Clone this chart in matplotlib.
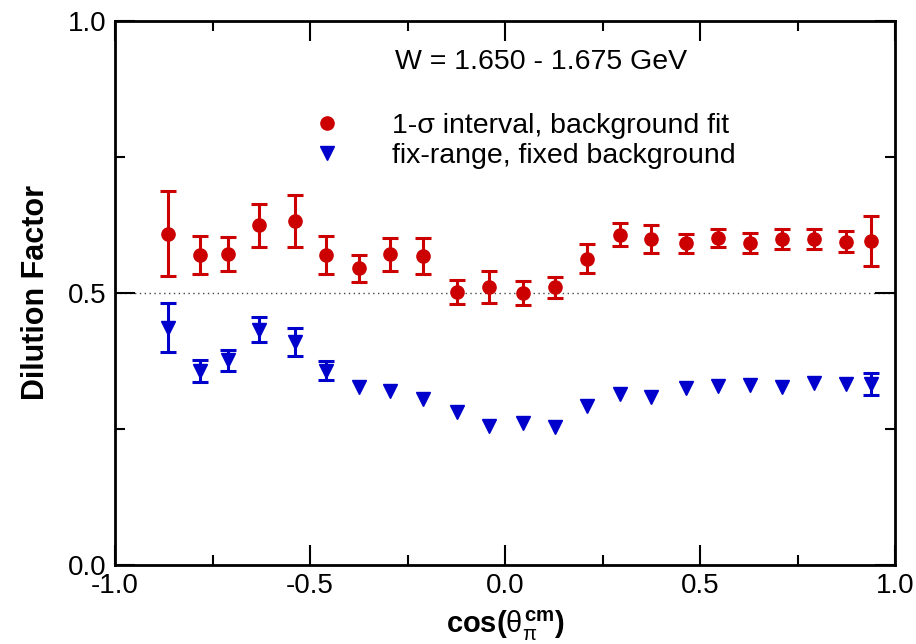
import matplotlib
matplotlib.use("Agg")
import numpy as np
import matplotlib.pyplot as plt
from matplotlib.lines import Line2D
from matplotlib.ticker import MultipleLocator, FormatStrFormatter

plt.rcParams['font.family'] = ['Liberation Sans', 'DejaVu Sans']
plt.rcParams['mathtext.fontset'] = 'custom'
plt.rcParams['mathtext.rm'] = 'Liberation Sans'
plt.rcParams['mathtext.it'] = 'Liberation Sans'
plt.rcParams['mathtext.bf'] = 'Liberation Sans:bold'

# ---- data ----
cos_theta = [-0.863, -0.783, -0.709, -0.630, -0.538, -0.459, -0.374, -0.294,
             -0.209, -0.123, -0.042, 0.045, 0.127, 0.211, 0.294, 0.375,
             0.465, 0.545, 0.628, 0.710, 0.792, 0.875, 0.938]
dil_fit = [0.609, 0.570, 0.572, 0.624, 0.632, 0.570, 0.545, 0.571,
           0.568, 0.502, 0.511, 0.499, 0.510, 0.563, 0.607, 0.599,
           0.591, 0.601, 0.592, 0.599, 0.599, 0.594, 0.596]
err_fit = [0.078, 0.035, 0.031, 0.040, 0.048, 0.035, 0.025, 0.030,
           0.033, 0.022, 0.030, 0.022, 0.020, 0.026, 0.021, 0.025,
           0.018, 0.016, 0.018, 0.018, 0.018, 0.019, 0.046]
dil_fix = [0.436, 0.357, 0.376, 0.432, 0.410, 0.357, 0.327, 0.319,
           0.305, 0.281, 0.255, 0.260, 0.254, 0.293, 0.314, 0.309,
           0.326, 0.329, 0.331, 0.327, 0.334, 0.333, 0.332]
# nan = error bar hidden behind the marker (not drawn)
err_fix = [0.045, 0.020, 0.019, 0.023, 0.026, 0.017, np.nan, np.nan,
           np.nan, np.nan, np.nan, np.nan, np.nan, np.nan, np.nan, np.nan,
           np.nan, np.nan, np.nan, np.nan, np.nan, np.nan, 0.020]
label_fit = "1-σ interval, background fit"
label_fix = "fix-range, fixed background"
title_text = "W = 1.650 - 1.675 GeV"

RED = '#cc0000'
BLUE = '#0000cc'

fig = plt.figure(figsize=(9.16, 6.44), dpi=100)
ax = fig.add_axes([115/916, 1-565/644, 780/916, (565-20.7)/644])

ax.axhline(0.5, color='#444444', lw=1.0, ls=(0, (1, 2.5)), zorder=1)

ax.errorbar(cos_theta, dil_fit, yerr=err_fit, fmt='o', color=RED, ms=9.5,
            elinewidth=2.2, capsize=6, capthick=2.2, zorder=3)
ax.errorbar(cos_theta, dil_fix, yerr=err_fix, fmt='v', color=BLUE, ms=10,
            elinewidth=2.2, capsize=6, capthick=2.2, zorder=3)

ax.set_xlim(-1.0, 1.0)
ax.set_ylim(0.0, 1.0)
ax.xaxis.set_major_locator(MultipleLocator(0.5))
ax.xaxis.set_minor_locator(MultipleLocator(0.25))
ax.yaxis.set_major_locator(MultipleLocator(0.5))
ax.yaxis.set_minor_locator(MultipleLocator(0.25))
ax.xaxis.set_major_formatter(FormatStrFormatter('%.1f'))
ax.yaxis.set_major_formatter(FormatStrFormatter('%.1f'))
ax.tick_params(which='both', direction='in', top=True, right=True,
               labelsize=20, width=1.5)
ax.tick_params(which='major', length=14.4, pad=6)
ax.tick_params(which='minor', length=7.2)
for s in ax.spines.values():
    s.set_linewidth(2.0)

ax.set_xlabel(r'$\mathbf{cos(}\theta_{\pi}^{\mathbf{cm}}\mathbf{)}$', fontsize=21, labelpad=7)
ax.set_ylabel('Dilution Factor', fontsize=22, fontweight='bold', labelpad=12)

fig.text(395/916, 1-62/644, title_text, fontsize=20.5, va='center', ha='left')

handles = [Line2D([], [], ls='none', marker='o', color=RED, ms=9.5),
           Line2D([], [], ls='none', marker='v', color=BLUE, ms=10)]
ax.legend(handles, [label_fit, label_fix], loc='upper left',
          bbox_to_anchor=(0.253, 0.83), frameon=False, fontsize=20.5,
          handlelength=1.0, handletextpad=1.8, labelspacing=0.12,
          borderpad=0, borderaxespad=0)

fig.savefig('out.png', dpi=100)
